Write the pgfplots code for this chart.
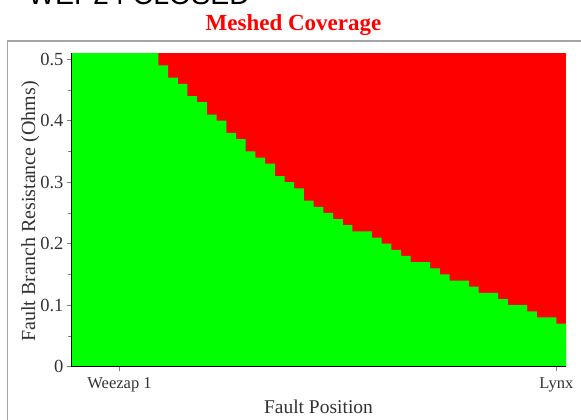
\documentclass[border=0pt]{standalone}
\usepackage{pgfplots}
\pgfplotsset{compat=1.18}
\usepackage{pgfplotstable}
\usepackage{fontspec}
\setmainfont{Liberation Serif}
\newfontfamily\sansfont{Liberation Sans}
\definecolor{cgreen}{RGB}{0,255,0}
\definecolor{cred}{RGB}{255,0,0}
\definecolor{framegray}{RGB}{165,165,165}

% column left edge, boundary resistance (Ohms) between covered (green) and not covered (red)
\pgfplotstableread{
x y
0 0.51
1 0.51
2 0.51
3 0.51
4 0.51
5 0.51
6 0.51
7 0.51
8 0.51
9 0.49
10 0.47
11 0.46
12 0.44
13 0.43
14 0.41
15 0.40
16 0.38
17 0.37
18 0.35
19 0.34
20 0.33
21 0.31
22 0.30
23 0.29
24 0.27
25 0.26
26 0.25
27 0.24
28 0.23
29 0.22
30 0.22
31 0.21
32 0.20
33 0.19
34 0.18
35 0.17
36 0.17
37 0.16
38 0.15
39 0.14
40 0.14
41 0.13
42 0.12
43 0.12
44 0.11
45 0.10
46 0.10
47 0.09
48 0.08
49 0.08
50 0.07
51 0.07
}\boundary

\begin{document}
\begin{tikzpicture}
\begin{axis}[
  at={(71pt,-366.7pt)}, anchor=south west,
  scale only axis, width=495pt, height=313.7pt,
  xmin=0, xmax=51, ymin=0, ymax=0.51,
  axis x line*=bottom, axis y line*=left,
  axis line style={black, line width=0.8pt, -},
  axis on top,
  xtick={5,50}, xticklabels={Weezap 1, Lynx},
  ytick={0,0.1,0.2,0.3,0.4,0.5},
  minor ytick={0.05,0.15,0.25,0.35,0.45},
  tick align=outside,
  major tick length=4pt, minor tick length=3pt,
  every tick/.style={gray, line width=0.6pt},
  /pgf/number format/assume math mode=true,
  yticklabel style={font=\fontsize{18.5}{18.5}\selectfont, text=black!80},
  xticklabel style={font=\fontsize{16.5}{16.5}\selectfont, text=black!80, yshift=-3pt},
  xlabel={Fault Position},
  ylabel={Fault Branch Resistance (Ohms)},
  every axis x label/.style={at={(axis description cs:0.5,-0.1476)}, anchor=base, font=\fontsize{19.5}{19.5}\selectfont, text=black!80},
  every axis y label/.style={at={(axis description cs:-0.0727,0.495)}, rotate=90, anchor=base, font=\fontsize{20}{20}\selectfont, text=black!80},
]
\addplot[draw=none, fill=cred] coordinates {(0,0.51) (51,0.51)} \closedcycle;
\addplot[draw=none, fill=cgreen, const plot] table[x=x, y=y] {\boundary} \closedcycle;
\end{axis}
\node[anchor=base west, font=\sansfont\fontsize{28.5}{28.5}\selectfont, inner sep=0] at (28pt,-4.7pt) {WEP24 CLOSED};
\draw[framegray, line width=1.5pt] (7.5pt,-41pt) rectangle (620pt,-460pt);
\node[anchor=base, font=\bfseries\fontsize{23}{23}\selectfont, text=cred, inner sep=0] at (293.5pt,-30.7pt) {Meshed Coverage};
\pgfresetboundingbox
\useasboundingbox (0pt,0pt) rectangle (581pt,-420pt);
\end{tikzpicture}
\end{document}
